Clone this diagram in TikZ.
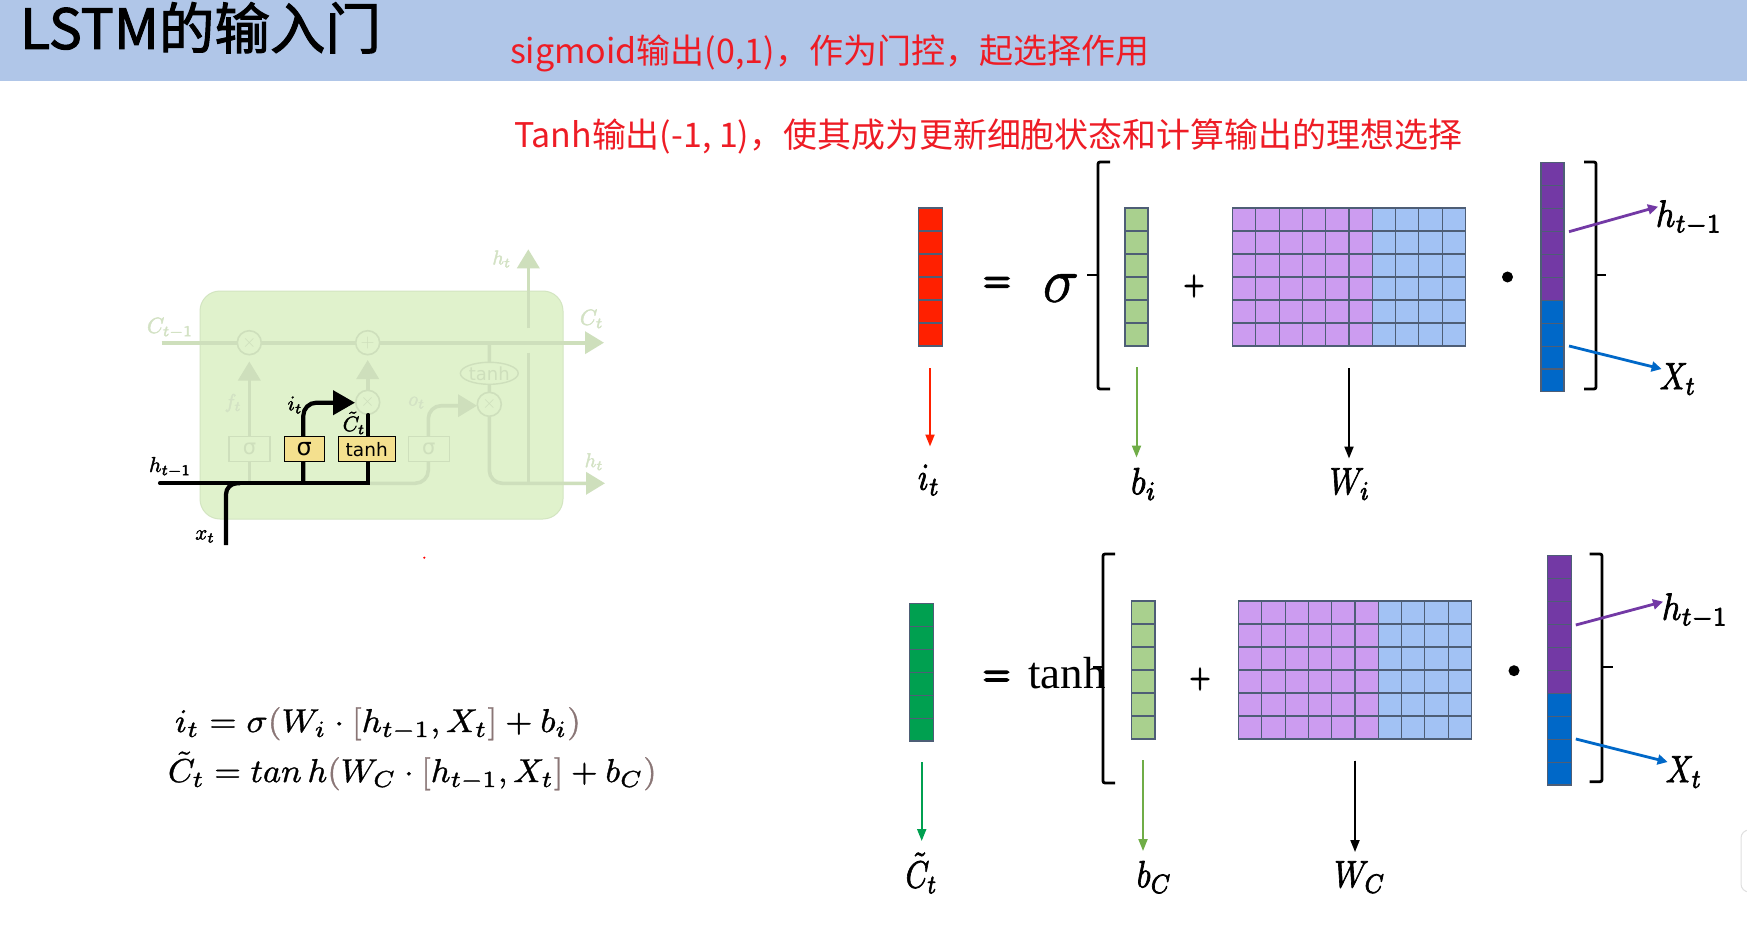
\documentclass[tikz,border=0pt]{standalone}
\usepackage{graphicx}
\usepackage{fontspec}
\usetikzlibrary{arrows.meta,shapes.geometric}
\newfontfamily\cjkfont{Noto Sans CJK SC}
\newfontfamily\dvfont{DejaVu Sans}
\newfontfamily\serifroman{Liberation Serif}
\definecolor{band}{HTML}{B0C6E8}
\definecolor{redtxt}{HTML}{EE1C25}
\definecolor{cellbg}{HTML}{E0F2CC}
\definecolor{fade}{HTML}{CEDFBC}
\definecolor{fadetxt}{HTML}{D3E2C4}
\definecolor{boxyellow}{HTML}{F4E08E}
\definecolor{gridln}{HTML}{4E5E76}
\definecolor{cred}{HTML}{FF2000}
\definecolor{cgreen}{HTML}{A9D08E}
\definecolor{cdgreen}{HTML}{00A050}
\definecolor{cpurple}{HTML}{CC9CF0}
\definecolor{cblue}{HTML}{A2C2F4}
\definecolor{cdpurple}{HTML}{7339A5}
\definecolor{cdblue}{HTML}{0068C8}
\definecolor{arrgreen}{HTML}{70AD47}
\definecolor{brk}{HTML}{8A7676}
\newcommand\heavy[2]{\special{pdf:code 2 Tr #1 w}#2\special{pdf:code 0 Tr}}
\newcommand\mth[3]{\scalebox{#1}[#2]{\heavy{0.2}{$#3$}}}
\newcommand\mthw[4]{\scalebox{#1}[#2]{\heavy{#3}{$#4$}}}
% x1,y1,x2,y2,cols,rows,fill
\newcommand\gridblock[7]{%
  \pgfmathsetmacro\gbw{(#3-#1)/#5}\pgfmathsetmacro\gbh{(#4-#2)/#6}%
  \foreach \i in {1,...,#5}{\foreach \j in {1,...,#6}{%
    \draw[cellline,fill=#7] ({#1+(\i-1)*\gbw},{#2+(\j-1)*\gbh}) rectangle ({#1+\i*\gbw},{#2+\j*\gbh});}}}
\tikzset{
  cellline/.style={draw=gridln,line width=1.1pt},
  txt/.style={inner sep=0pt,outer sep=0pt},
  brace/.style={line width=2.8pt,rounded corners=2pt,black},
  fadeline/.style={draw=fade,line width=3.6pt},
  fadehead/.style={-{Triangle[length=19pt,width=22pt]}},
  blackline/.style={draw=black,line width=4.2pt,line cap=round},
  fadecirc/.style={circle,draw=fade,fill=cellbg,line width=1.6pt,minimum size=24pt,inner sep=0pt,text=fade},
  fadebox/.style={draw=fade,line width=1.4pt,fill=cellbg,inner sep=0pt,text=fade,minimum height=25pt},
  ybox/.style={draw=black,line width=1.4pt,fill=boxyellow,inner sep=0pt,text=black,minimum height=25pt},
  thinarr/.style={line width=2pt,-{Triangle[length=12pt,width=9pt]}},
  vecarr/.style={line width=2.8pt,-{Triangle[length=10pt,width=10pt]}},
}
\begin{document}
\begin{tikzpicture}[x=1pt,y=-1pt]
\useasboundingbox (0,0) rectangle (1747,925);
\fill[white] (0,0) rectangle (1747,925);
\fill[band] (0,0) rectangle (1747,81);
\node[txt,anchor=base west] (title) at (20,49) {\heavy{1}{\cjkfont\fontsize{55.5}{55}\selectfont LSTM的输入门}};
\node[txt,anchor=base west,text=redtxt] (note1) at (510,64) {\cjkfont\fontsize{34}{36}\selectfont sigmoid输出(0,1)，作为门控，起选择作用};
\node[txt,anchor=base west,text=redtxt] (note2) at (514,148) {\cjkfont\fontsize{33.95}{36}\selectfont Tanh输出(-1, 1)，使其成为更新细胞状态和计算输出的理想选择};

% ---- LSTM cell ----
\draw[draw=fade!70!cellbg,line width=1pt,fill=cellbg,rounded corners=20pt] (200,291) rectangle (563,519);
\coordinate (cellL) at (161.7,342.7);
\coordinate (cellR) at (604,342.7);
\draw[fadeline,fadehead] (cellL) -- (cellR);
\coordinate (ftb) at (249.3,483.3);
\coordinate (ftt) at (249.3,361.5);
\draw[fadeline,fadehead] (ftb) -- (ftt);
\coordinate (ctb) at (367.7,402);
\coordinate (ctt) at (367.7,360);
\draw[fadeline,fadehead] (ctb) -- (ctt);
\coordinate (otb) at (368,483.3);
\coordinate (otm) at (428.3,405.7);
\coordinate (ott) at (477,405.7);
\draw[fadeline,fadehead,rounded corners=13pt] (otb) -| (otm) -- (ott);
\coordinate (h1) at (489.3,342.7);
\coordinate (h2) at (489.3,483.3);
\coordinate (h3) at (605,483.3);
\draw[fadeline,fadehead,rounded corners=13pt] (h1) -- (h2) -- (h3);
\coordinate (hu1) at (528.3,328.3);
\coordinate (hu2) at (528.3,249.3);
\draw[fadeline,fadehead] (hu1) -- (hu2);
\coordinate (hd1) at (528.3,352.7);
\coordinate (hd2) at (528.3,483.3);
\draw[fadeline] (hd1) -- (hd2);
\node[fadecirc] (c1) at (249.3,342.7) {\scalebox{1.8}{$\times$}};
\node[fadecirc] (c2) at (367.7,342.7) {\scalebox{1.8}{$+$}};
\node[fadecirc] (c3) at (367.7,402.3) {\scalebox{1.8}{$\times$}};
\node[fadecirc] (c4) at (489.3,404.3) {\scalebox{1.8}{$\times$}};
\node[fadebox,minimum width=41pt] (s1) at (249.6,449.2) {\dvfont\fontsize{21}{21}\selectfont σ};
\node[fadebox,minimum width=41pt] (s3) at (428.8,449.2) {\dvfont\fontsize{21}{21}\selectfont σ};
\node[ellipse,draw=fade,line width=1.4pt,fill=cellbg,minimum width=56pt,minimum height=22pt,inner sep=0pt,text=fade] (s4) at (489.3,373.3) {\dvfont\fontsize{18}{18}\selectfont tanh};
% black paths
\coordinate (hl) at (160,483.3);
\coordinate (hr) at (368.3,483.3);
\coordinate (hrt) at (368.3,415);
\draw[blackline,line join=miter] (hl) -- (hr) -- (hrt);
\coordinate (xb) at (226,545);
\coordinate (xr) at (240,483.3);
\draw[blackline,line cap=butt,rounded corners=11pt] (xb) |- (xr);
\coordinate (itb) at (303.3,483.3);
\coordinate (itm) at (303.3,402.7);
\coordinate (itt) at (355,402.7);
\draw[blackline,line cap=butt,rounded corners=13pt,-{Triangle[length=22pt,width=24pt]}] (itb) -- (itm) -- (itt);
\node[ybox,minimum width=40pt] (sg) at (304.2,449.2) {\dvfont\fontsize{24}{24}\selectfont σ};
\node[ybox,minimum width=57pt] (th) at (366.7,449.2) {\dvfont\fontsize{18.5}{19}\selectfont tanh};
% labels
\node[txt] (lh) at (170,467) {\mth{2.15}{2.15}{h_{t-1}}};
\node[txt] (lx) at (205,536.5) {\mth{2.1}{2.1}{x_t}};
\node[txt] (li) at (295,405) {\mth{2.1}{2.1}{i_t}};
\node[txt] (lc) at (354,423) {\mth{2.1}{2.1}{\tilde C_t}};
\node[txt,text=fadetxt] (lc0) at (170,328) {\mth{2.2}{2.2}{C_{t-1}}};
\node[txt,text=fadetxt] (lc1) at (591.7,319) {\mth{2.2}{2.2}{C_t}};
\node[txt,text=fadetxt] (lh1) at (501.7,259) {\mth{2.0}{2.0}{h_t}};
\node[txt,text=fadetxt] (lh2) at (594,461.7) {\mth{2.0}{2.0}{h_t}};
\node[txt,text=fadetxt] (lf) at (233,403) {\mth{2.0}{2.0}{f_t}};
\node[txt,text=fadetxt] (lo) at (416.7,402.7) {\mth{2.0}{2.0}{o_t}};
\fill[red] (424.3,557.7) circle (1.2pt);

% ---- formulas ----
\node[txt,anchor=base west] (f1) at (175,732) {\mthw{3.52}{3.3}{0.1}{i_t=\sigma{\color{brk}(}W_i\cdot{\color{brk}[}h_{t-1},X_t{\color{brk}]}+b_i{\color{brk})}}};
\node[txt,anchor=base west] (f2) at (168,782) {\mthw{3.44}{3.3}{0.1}{\tilde C_t=tan\,h{\color{brk}(}W_C\cdot{\color{brk}[}h_{t-1},X_t{\color{brk}]}+b_C{\color{brk})}}};

% ---- top equation ----
\gridblock{918.4}{208}{942.5}{346}{1}{6}{cred}
\coordinate (a1s) at (930,368); \coordinate (a1e) at (930,446.5);
\draw[thinarr,draw=cred,fill=cred] (a1s) -- (a1e);
\node[txt] (it) at (929,480) {\mth{3.2}{3.8}{i_t}};
\node[txt] (eq1) at (997,285) {\mthw{3.4}{4}{0.55}{\mathbf{=}}};
\node[txt] (sig1) at (1061,288) {\mthw{6}{6.4}{0.08}{\sigma}};
\draw[brace] (1110,162) -- (1098,162) -- (1098,389) -- (1110,389);
\draw[brace,rounded corners=0pt] (1087,275) -- (1098,275);
\gridblock{1125}{208}{1148}{346}{1}{6}{cgreen}
\coordinate (a2s) at (1136.5,367); \coordinate (a2e) at (1136.5,457.5);
\draw[thinarr,draw=arrgreen,fill=arrgreen] (a2s) -- (a2e);
\node[txt] (bi) at (1144,484) {\mth{3.4}{3.8}{b_i}};
\node[txt] (pl1) at (1194,286) {\mthw{2.6}{3.2}{0.5}{\mathbf{+}}};
\gridblock{1232.6}{208}{1372.3}{346}{6}{6}{cpurple}
\gridblock{1372.3}{208}{1465.4}{346}{4}{6}{cblue}
\coordinate (a3s) at (1349,368); \coordinate (a3e) at (1349,458.5);
\draw[thinarr,draw=black,fill=black] (a3s) -- (a3e);
\node[txt] (wi) at (1350,484) {\mth{3.2}{3.8}{W_i}};
\fill[black] (1507.5,277) circle (5.5pt);
\gridblock{1541}{162.7}{1564}{300.7}{1}{6}{cdpurple}
\gridblock{1541}{300.7}{1564}{391.7}{1}{4}{cdblue}
\draw[brace] (1584,162) -- (1596,162) -- (1596,389) -- (1584,389);
\draw[brace,rounded corners=0pt] (1596,275) -- (1606,275);
\coordinate (a4s) at (1569,231.7); \coordinate (a4e) at (1658,206.7);
\draw[vecarr,draw=cdpurple,fill=cdpurple] (a4s) -- (a4e);
\coordinate (a5s) at (1569,346); \coordinate (a5e) at (1661.6,369);
\draw[vecarr,draw=cdblue,fill=cdblue] (a5s) -- (a5e);
\node[txt] (hl1) at (1689,218) {\mth{3.4}{3.8}{h_{t-1}}};
\node[txt] (xl1) at (1678,379) {\mth{3.1}{3.8}{X_t}};

% ---- bottom equation ----
\gridblock{909.7}{603.7}{933.7}{741}{1}{6}{cdgreen}
\coordinate (b1s) at (921.7,762); \coordinate (b1e) at (921.7,841);
\draw[thinarr,draw=cdgreen,fill=cdgreen] (b1s) -- (b1e);
\node[txt] (ct) at (921.7,873) {\mth{3}{3.8}{\tilde C_t}};
\node[txt] (eq2) at (996.6,678.7) {\mthw{3.4}{4}{0.55}{\mathbf{=}}};
\node[txt,anchor=west] (tanh) at (1028,673) {\serifroman\fontsize{45}{45}\selectfont tanh};
\draw[brace] (1115,554) -- (1103,554) -- (1103,783) -- (1115,783);
\draw[brace,rounded corners=0pt] (1093,667) -- (1103,667);
\gridblock{1131.5}{601}{1155}{739}{1}{6}{cgreen}
\coordinate (b2s) at (1143,760); \coordinate (b2e) at (1143,851);
\draw[thinarr,draw=arrgreen,fill=arrgreen] (b2s) -- (b2e);
\node[txt] (bc) at (1154.5,877) {\mth{3.2}{3.8}{b_C}};
\node[txt] (pl2) at (1200,679) {\mthw{2.6}{3.2}{0.5}{\mathbf{+}}};
\gridblock{1238.6}{601}{1378.3}{739}{6}{6}{cpurple}
\gridblock{1378.3}{601}{1471.4}{739}{4}{6}{cblue}
\coordinate (b3s) at (1355,760.7); \coordinate (b3e) at (1355,852);
\draw[thinarr,draw=black,fill=black] (b3s) -- (b3e);
\node[txt] (wc) at (1360,877) {\mth{3.2}{3.8}{W_C}};
\fill[black] (1514,670.7) circle (5.5pt);
\gridblock{1547.4}{555.7}{1571.4}{693.2}{1}{6}{cdpurple}
\gridblock{1547.4}{693.2}{1571.4}{785}{1}{4}{cdblue}
\draw[brace] (1589.5,554) -- (1602,554) -- (1602,781.7) -- (1589.5,781.7);
\draw[brace,rounded corners=0pt] (1602,667) -- (1613,667);
\coordinate (b4s) at (1575.8,625); \coordinate (b4e) at (1663,601.7);
\draw[vecarr,draw=cdpurple,fill=cdpurple] (b4s) -- (b4e);
\coordinate (b5s) at (1575.8,739); \coordinate (b5e) at (1667.6,762);
\draw[vecarr,draw=cdblue,fill=cdblue] (b5s) -- (b5e);
\node[txt] (hl2) at (1695,611) {\mth{3.4}{3.8}{h_{t-1}}};
\node[txt] (xl2) at (1684,772) {\mth{3.1}{3.8}{X_t}};

% ---- clipped edge of a panel ----
\begin{scope}
\clip (0,0) rectangle (1747,925);
\draw[draw=black!12,line width=1pt,fill=white,rounded corners=8pt] (1741,830) rectangle (1770,892);
\end{scope}
\end{tikzpicture}
\end{document}
